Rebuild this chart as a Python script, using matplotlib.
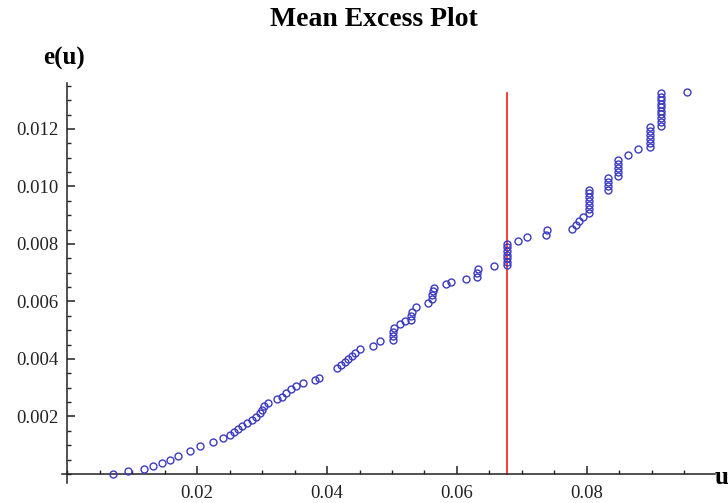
import matplotlib
matplotlib.use("Agg")
import matplotlib.pyplot as plt
from matplotlib.ticker import MultipleLocator, FixedLocator, FixedFormatter

# Threshold u and mean excess e(u)
u = [0.00708, 0.00938, 0.01185, 0.01323, 0.01462, 0.01585, 0.01708, 0.01892,
     0.02046, 0.02246, 0.02400, 0.02508, 0.02569, 0.02631, 0.02692, 0.02769,
     0.02846, 0.02908, 0.02969, 0.03000, 0.03031, 0.03092, 0.03231, 0.03308,
     0.03369, 0.03446, 0.03523, 0.03631, 0.03815, 0.03877, 0.04154, 0.04215,
     0.04277, 0.04323, 0.04385, 0.04431, 0.04508, 0.04708, 0.04815, 0.05015,
     0.05015, 0.05015, 0.05030, 0.05123, 0.05200, 0.05292, 0.05292, 0.05308,
     0.05369, 0.05554, 0.05620, 0.05620, 0.05635, 0.05650, 0.05831, 0.05908,
     0.06138, 0.06310, 0.06310, 0.06325, 0.06569, 0.06769, 0.06769, 0.06769,
     0.06769, 0.06769, 0.06769, 0.06769, 0.06938, 0.07077, 0.07370, 0.07385,
     0.07769, 0.07831, 0.07877, 0.07938, 0.08031, 0.08031, 0.08031, 0.08031,
     0.08031, 0.08031, 0.08031, 0.08323, 0.08323, 0.08323, 0.08323, 0.08477,
     0.08477, 0.08477, 0.08477, 0.08477, 0.08631, 0.08785, 0.08969, 0.08969,
     0.08969, 0.08969, 0.08969, 0.08969, 0.09138, 0.09138, 0.09138, 0.09138,
     0.09138, 0.09138, 0.09138, 0.09138, 0.09138, 0.09138, 0.09538]
e_u = [0.00000, 0.00010, 0.00017, 0.00028, 0.00038, 0.00049, 0.00063, 0.00080,
       0.00097, 0.00111, 0.00125, 0.00136, 0.00146, 0.00157, 0.00167, 0.00177,
       0.00188, 0.00198, 0.00212, 0.00223, 0.00237, 0.00247, 0.00261, 0.00268,
       0.00282, 0.00296, 0.00306, 0.00317, 0.00327, 0.00334, 0.00369, 0.00379,
       0.00390, 0.00400, 0.00410, 0.00421, 0.00435, 0.00445, 0.00463, 0.00466,
       0.00480, 0.00494, 0.00508, 0.00522, 0.00532, 0.00536, 0.00550, 0.00563,
       0.00581, 0.00595, 0.00609, 0.00623, 0.00637, 0.00647, 0.00661, 0.00668,
       0.00678, 0.00685, 0.00699, 0.00713, 0.00723, 0.00727, 0.00737, 0.00751,
       0.00762, 0.00776, 0.00790, 0.00800, 0.00810, 0.00824, 0.00831, 0.00849,
       0.00852, 0.00866, 0.00880, 0.00894, 0.00908, 0.00922, 0.00936, 0.00950,
       0.00963, 0.00977, 0.00988, 0.00988, 0.01002, 0.01016, 0.01030, 0.01037,
       0.01050, 0.01064, 0.01078, 0.01092, 0.01110, 0.01130, 0.01137, 0.01151,
       0.01165, 0.01179, 0.01193, 0.01207, 0.01210, 0.01224, 0.01238, 0.01252,
       0.01263, 0.01277, 0.01287, 0.01301, 0.01311, 0.01325, 0.01329]

threshold = 0.0677
threshold_top = 0.01325

x_ticks = [0.02, 0.04, 0.06, 0.08]
x_tick_labels = ["0.02", "0.04", "0.06", "0.08"]
y_ticks = [0.002, 0.004, 0.006, 0.008, 0.010, 0.012]
y_tick_labels = ["0.002", "0.004", "0.006", "0.008", "0.010", "0.012"]

serif = ["Liberation Serif", "DejaVu Serif"]

fig = plt.figure(figsize=(7.28, 5.03), dpi=100)
ax = fig.add_axes([0.0849, 0.0406, 0.8973, 0.7944])

ax.plot(u, e_u, linestyle="none", marker="o", markersize=5.0,
        markerfacecolor="none", markeredgecolor="#3b3bc4", markeredgewidth=1.0,
        zorder=3)
ax.plot([threshold, threshold], [0, threshold_top], color="#ff1a1a", lw=1.2, zorder=2)

ax.set_xlim(-0.0008, 0.0997)
ax.set_ylim(-0.0003, 0.0136)

for s in ["top", "right"]:
    ax.spines[s].set_visible(False)
ax.spines["left"].set_position(("data", 0))
ax.spines["bottom"].set_position(("data", 0))
for s in ["left", "bottom"]:
    ax.spines[s].set_color("#222222")
    ax.spines[s].set_linewidth(1.1)

ax.xaxis.set_major_locator(FixedLocator(x_ticks))
ax.xaxis.set_major_formatter(FixedFormatter(x_tick_labels))
ax.yaxis.set_major_locator(FixedLocator(y_ticks))
ax.yaxis.set_major_formatter(FixedFormatter(y_tick_labels))
ax.xaxis.set_minor_locator(MultipleLocator(0.005))
ax.yaxis.set_minor_locator(MultipleLocator(0.0005))

ax.tick_params(which="major", direction="in", length=6, width=1.1, color="#222222",
               labelsize=13.5, labelcolor="#222222")
ax.tick_params(which="minor", direction="in", length=3, width=1.0, color="#222222")
ax.tick_params(axis="x", which="major", pad=8)
ax.tick_params(axis="y", which="major", pad=6)
for lab in ax.get_xticklabels() + ax.get_yticklabels():
    lab.set_family(serif)

fig.text(374 / 728, 1 - 19 / 503, "Mean Excess Plot", ha="center", va="center",
         family=serif, fontweight="bold", fontsize=20)
fig.text(64 / 728, 1 - 58 / 503, "e(u)", ha="center", va="center",
         family=serif, fontweight="bold", fontsize=18)
fig.text(722 / 728, 1 - 477 / 503, "u", ha="center", va="center",
         family=serif, fontweight="bold", fontsize=18)

fig.savefig("out.png", dpi=100)
